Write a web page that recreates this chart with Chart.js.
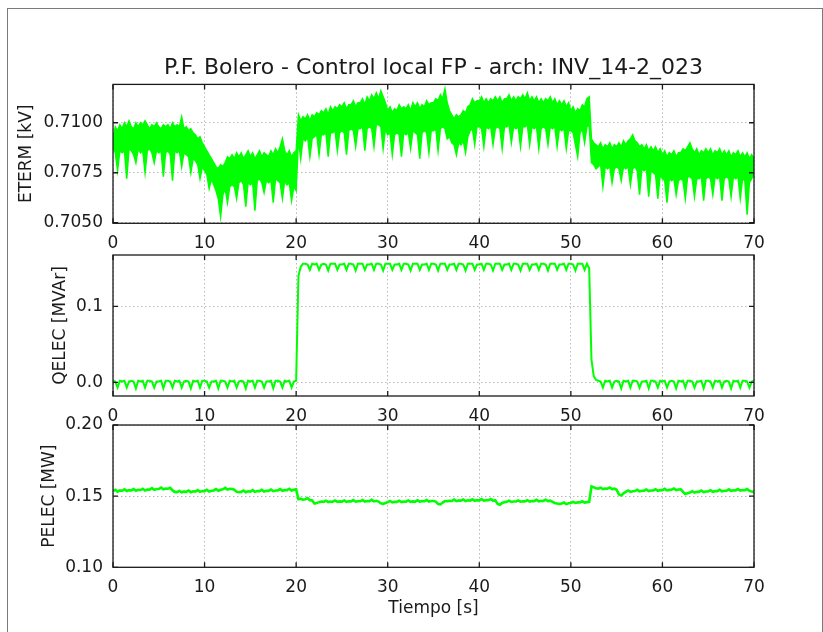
<!DOCTYPE html>
<html>
<head>
<meta charset="utf-8">
<script src="https://cdn.jsdelivr.net/npm/chart.js@4/dist/chart.umd.min.js"></script>
<style>
  html, body { margin: 0; padding: 0; background: #fff; }
  body { width: 823px; height: 632px; position: relative; overflow: hidden; }
  canvas { position: absolute; left: 0; }
  #marco { position: absolute; left: 7px; top: 8px; width: 814px; height: 640px; border: 1px solid #7a7a7a; }
</style>
</head>
<body>
<div id="marco"></div>
<canvas id="cE" width="823" height="255" style="top:0px"></canvas>
<canvas id="cQ" width="823" height="188" style="top:240px"></canvas>
<canvas id="cP" width="823" height="222" style="top:410px"></canvas>
<script>
// Muestreo cada 0.25 s, de 0 a 70 s
const paso = 0.25;

// ETERM [kV]: borde superior de la banda de ruido
const etermSup = [
  0.7092, 0.7098, 0.7096, 0.7099,
  0.7097, 0.7100, 0.7098, 0.7101,
  0.7098, 0.7097, 0.7100, 0.7098,
  0.7100, 0.7099, 0.7101, 0.7099,
  0.7097, 0.7099, 0.7098, 0.7100,
  0.7098, 0.7097, 0.7099, 0.7098,
  0.7099, 0.7097, 0.7100, 0.7098,
  0.7099, 0.7098, 0.7103, 0.7097,
  0.7098, 0.7096, 0.7097, 0.7095,
  0.7094, 0.7092, 0.7093, 0.7090,
  0.7088, 0.7086, 0.7084, 0.7082,
  0.7080, 0.7078, 0.7077, 0.7079,
  0.7078, 0.7080, 0.7083, 0.7082,
  0.7084, 0.7082, 0.7085, 0.7083,
  0.7085, 0.7082, 0.7084, 0.7086,
  0.7083, 0.7085, 0.7082, 0.7084,
  0.7086, 0.7083, 0.7085, 0.7084,
  0.7083, 0.7086, 0.7084, 0.7087,
  0.7085, 0.7088, 0.7092, 0.7086,
  0.7084, 0.7086, 0.7083, 0.7085,
  0.7086, 0.7104, 0.7101, 0.7103,
  0.7102, 0.7104, 0.7101, 0.7104,
  0.7103, 0.7105, 0.7104, 0.7106,
  0.7105, 0.7107, 0.7104, 0.7108,
  0.7106, 0.7108, 0.7107, 0.7109,
  0.7108, 0.7110, 0.7107, 0.7109,
  0.7109, 0.7111, 0.7108, 0.7110,
  0.7110, 0.7112, 0.7109, 0.7113,
  0.7111, 0.7114, 0.7112, 0.7115,
  0.7112, 0.7116, 0.7113, 0.7110,
  0.7106, 0.7108, 0.7105, 0.7107,
  0.7106, 0.7109, 0.7107, 0.7108,
  0.7107, 0.7109, 0.7106, 0.7110,
  0.7108, 0.7110, 0.7107, 0.7109,
  0.7108, 0.7111, 0.7109, 0.7110,
  0.7110, 0.7112, 0.7111, 0.7114,
  0.7112, 0.7117, 0.7110, 0.7106,
  0.7104, 0.7102, 0.7104, 0.7103,
  0.7104, 0.7106, 0.7105, 0.7108,
  0.7109, 0.7112, 0.7110, 0.7111,
  0.7111, 0.7113, 0.7110, 0.7112,
  0.7110, 0.7112, 0.7111, 0.7113,
  0.7111, 0.7113, 0.7110, 0.7112,
  0.7112, 0.7114, 0.7111, 0.7113,
  0.7111, 0.7113, 0.7112, 0.7114,
  0.7112, 0.7115, 0.7111, 0.7113,
  0.7111, 0.7113, 0.7110, 0.7112,
  0.7110, 0.7112, 0.7111, 0.7113,
  0.7110, 0.7112, 0.7109, 0.7111,
  0.7109, 0.7111, 0.7108, 0.7110,
  0.7106, 0.7108, 0.7105, 0.7107,
  0.7106, 0.7109, 0.7108, 0.7112,
  0.7113, 0.7092, 0.7090, 0.7089,
  0.7088, 0.7090, 0.7087, 0.7089,
  0.7088, 0.7090, 0.7087, 0.7089,
  0.7088, 0.7090, 0.7088, 0.7091,
  0.7089, 0.7091, 0.7092, 0.7094,
  0.7091, 0.7090, 0.7088, 0.7089,
  0.7087, 0.7089, 0.7086, 0.7088,
  0.7086, 0.7088, 0.7085, 0.7087,
  0.7084, 0.7086, 0.7083, 0.7085,
  0.7084, 0.7086, 0.7083, 0.7085,
  0.7085, 0.7087, 0.7086, 0.7088,
  0.7090, 0.7087, 0.7085, 0.7087,
  0.7084, 0.7086, 0.7085, 0.7087,
  0.7085, 0.7087, 0.7084, 0.7086,
  0.7085, 0.7087, 0.7084, 0.7086,
  0.7084, 0.7086, 0.7083, 0.7085,
  0.7084, 0.7086, 0.7083, 0.7085,
  0.7083, 0.7085, 0.7082, 0.7084,
  0.7082
];

// ETERM [kV]: borde inferior de la banda, con los picos hacia abajo
const etermInf = [
  0.7087, 0.7085, 0.7076, 0.7086,
  0.7085, 0.7086, 0.7072, 0.7087,
  0.7086, 0.7084, 0.7080, 0.7087,
  0.7085, 0.7086, 0.7075, 0.7086,
  0.7087, 0.7085, 0.7080, 0.7086,
  0.7085, 0.7086, 0.7073, 0.7085,
  0.7086, 0.7084, 0.7071, 0.7086,
  0.7085, 0.7086, 0.7078, 0.7085,
  0.7084, 0.7083, 0.7075, 0.7082,
  0.7081, 0.7079, 0.7072, 0.7078,
  0.7076, 0.7074, 0.7067, 0.7072,
  0.7069, 0.7066, 0.7062, 0.7053,
  0.7064, 0.7067, 0.7060, 0.7068,
  0.7069, 0.7068, 0.7062, 0.7070,
  0.7071, 0.7069, 0.7058, 0.7070,
  0.7069, 0.7070, 0.7056, 0.7071,
  0.7072, 0.7070, 0.7065, 0.7071,
  0.7070, 0.7071, 0.7060, 0.7072,
  0.7071, 0.7070, 0.7062, 0.7071,
  0.7069, 0.7070, 0.7061, 0.7068,
  0.7066, 0.7092, 0.7082, 0.7092,
  0.7091, 0.7093, 0.7083, 0.7092,
  0.7093, 0.7094, 0.7084, 0.7094,
  0.7094, 0.7095, 0.7083, 0.7095,
  0.7095, 0.7096, 0.7086, 0.7095,
  0.7096, 0.7095, 0.7084, 0.7096,
  0.7097, 0.7096, 0.7088, 0.7097,
  0.7097, 0.7098, 0.7086, 0.7097,
  0.7098, 0.7097, 0.7088, 0.7099,
  0.7099, 0.7098, 0.7087, 0.7097,
  0.7094, 0.7095, 0.7084, 0.7094,
  0.7095, 0.7094, 0.7083, 0.7095,
  0.7094, 0.7095, 0.7087, 0.7096,
  0.7095, 0.7094, 0.7082, 0.7095,
  0.7096, 0.7095, 0.7085, 0.7096,
  0.7096, 0.7097, 0.7086, 0.7097,
  0.7098, 0.7097, 0.7092, 0.7093,
  0.7090, 0.7089, 0.7084, 0.7090,
  0.7089, 0.7091, 0.7085, 0.7093,
  0.7096, 0.7097, 0.7089, 0.7098,
  0.7098, 0.7097, 0.7088, 0.7098,
  0.7097, 0.7098, 0.7089, 0.7097,
  0.7098, 0.7097, 0.7087, 0.7098,
  0.7098, 0.7099, 0.7090, 0.7098,
  0.7097, 0.7098, 0.7088, 0.7098,
  0.7098, 0.7099, 0.7089, 0.7098,
  0.7097, 0.7098, 0.7087, 0.7097,
  0.7098, 0.7097, 0.7089, 0.7098,
  0.7097, 0.7098, 0.7088, 0.7097,
  0.7096, 0.7097, 0.7087, 0.7096,
  0.7096, 0.7095, 0.7089, 0.7083,
  0.7095, 0.7097, 0.7090, 0.7098,
  0.7099, 0.7080, 0.7079, 0.7077,
  0.7078, 0.7079, 0.7068, 0.7078,
  0.7077, 0.7078, 0.7070, 0.7077,
  0.7078, 0.7077, 0.7071, 0.7078,
  0.7077, 0.7078, 0.7069, 0.7077,
  0.7078, 0.7076, 0.7064, 0.7077,
  0.7076, 0.7077, 0.7063, 0.7076,
  0.7075, 0.7074, 0.7062, 0.7074,
  0.7072, 0.7071, 0.7060, 0.7072,
  0.7071, 0.7072, 0.7064, 0.7071,
  0.7072, 0.7071, 0.7062, 0.7073,
  0.7073, 0.7072, 0.7063, 0.7072,
  0.7072, 0.7073, 0.7061, 0.7072,
  0.7073, 0.7072, 0.7064, 0.7073,
  0.7072, 0.7073, 0.7061, 0.7072,
  0.7073, 0.7072, 0.7063, 0.7073,
  0.7072, 0.7073, 0.7062, 0.7072,
  0.7071, 0.7054, 0.7070, 0.7072,
  0.7074
];

// QELEC [MVAr]
const qelec = [
  0.002, 0.001, -0.007, 0.002,
  0.001, 0.002, -0.007, 0.001,
  0.002, 0.001, -0.008, 0.002,
  0.001, 0.002, -0.007, 0.002,
  0.002, 0.001, -0.007, 0.001,
  0.001, 0.002, -0.008, 0.002,
  0.002, 0.001, -0.007, 0.002,
  0.001, 0.002, -0.007, 0.001,
  0.002, 0.001, -0.008, 0.002,
  0.001, 0.002, -0.007, 0.002,
  0.002, 0.001, -0.007, 0.001,
  0.001, 0.002, -0.008, 0.002,
  0.002, 0.001, -0.007, 0.002,
  0.001, 0.002, -0.007, 0.001,
  0.002, 0.001, -0.008, 0.002,
  0.001, 0.002, -0.007, 0.002,
  0.002, 0.001, -0.007, 0.001,
  0.001, 0.002, -0.008, 0.002,
  0.002, 0.001, -0.007, 0.002,
  0.001, 0.002, -0.007, 0.001,
  0.002, 0.140, 0.152, 0.156,
  0.156, 0.155, 0.148, 0.156,
  0.155, 0.156, 0.148, 0.155,
  0.156, 0.155, 0.147, 0.156,
  0.156, 0.156, 0.148, 0.155,
  0.155, 0.156, 0.148, 0.156,
  0.156, 0.155, 0.147, 0.156,
  0.156, 0.156, 0.148, 0.155,
  0.155, 0.156, 0.148, 0.156,
  0.156, 0.155, 0.147, 0.156,
  0.156, 0.156, 0.148, 0.155,
  0.155, 0.156, 0.148, 0.156,
  0.156, 0.155, 0.147, 0.156,
  0.156, 0.156, 0.148, 0.155,
  0.155, 0.156, 0.148, 0.156,
  0.156, 0.155, 0.147, 0.156,
  0.156, 0.156, 0.148, 0.155,
  0.155, 0.156, 0.148, 0.156,
  0.156, 0.155, 0.147, 0.156,
  0.156, 0.156, 0.148, 0.155,
  0.155, 0.156, 0.148, 0.156,
  0.156, 0.155, 0.147, 0.156,
  0.156, 0.156, 0.148, 0.155,
  0.155, 0.156, 0.148, 0.156,
  0.156, 0.155, 0.147, 0.156,
  0.156, 0.156, 0.148, 0.155,
  0.155, 0.156, 0.148, 0.156,
  0.156, 0.155, 0.147, 0.156,
  0.156, 0.156, 0.148, 0.155,
  0.155, 0.156, 0.148, 0.156,
  0.156, 0.155, 0.147, 0.156,
  0.156, 0.156, 0.148, 0.156,
  0.150, 0.030, 0.008, 0.003,
  0.002, 0.001, -0.007, 0.002,
  0.001, 0.002, -0.007, 0.001,
  0.002, 0.001, -0.008, 0.002,
  0.001, 0.002, -0.007, 0.002,
  0.002, 0.001, -0.007, 0.001,
  0.001, 0.002, -0.008, 0.002,
  0.002, 0.001, -0.007, 0.002,
  0.001, 0.002, -0.007, 0.001,
  0.002, 0.001, -0.008, 0.002,
  0.001, 0.002, -0.007, 0.002,
  0.002, 0.001, -0.007, 0.001,
  0.001, 0.002, -0.008, 0.002,
  0.002, 0.001, -0.007, 0.002,
  0.001, 0.002, -0.007, 0.001,
  0.002, 0.001, -0.008, 0.002,
  0.001, 0.002, -0.007, 0.002,
  0.002, 0.001, -0.007, 0.001,
  0.002
];

// PELEC [MW]
const pelec = [
  0.1535, 0.1545, 0.1532, 0.1540,
  0.1538, 0.1548, 0.1536, 0.1542,
  0.1540, 0.1550, 0.1538, 0.1545,
  0.1543, 0.1552, 0.1540, 0.1547,
  0.1546, 0.1556, 0.1544, 0.1550,
  0.1550, 0.1560, 0.1548, 0.1554,
  0.1552, 0.1558, 0.1540, 0.1530,
  0.1528, 0.1537, 0.1527, 0.1532,
  0.1530, 0.1540, 0.1528, 0.1534,
  0.1532, 0.1542, 0.1530, 0.1536,
  0.1535, 0.1545, 0.1533, 0.1538,
  0.1540, 0.1550, 0.1538, 0.1545,
  0.1548, 0.1558, 0.1546, 0.1552,
  0.1550, 0.1545, 0.1530, 0.1528,
  0.1530, 0.1540, 0.1528, 0.1534,
  0.1532, 0.1542, 0.1530, 0.1536,
  0.1535, 0.1545, 0.1533, 0.1538,
  0.1537, 0.1547, 0.1535, 0.1540,
  0.1540, 0.1550, 0.1538, 0.1542,
  0.1542, 0.1552, 0.1540, 0.1545,
  0.1548, 0.1478, 0.1482, 0.1475,
  0.1478, 0.1486, 0.1472, 0.1470,
  0.1448, 0.1452, 0.1458, 0.1462,
  0.1460, 0.1468, 0.1458, 0.1462,
  0.1461, 0.1470, 0.1460, 0.1463,
  0.1462, 0.1470, 0.1460, 0.1464,
  0.1463, 0.1472, 0.1461, 0.1465,
  0.1464, 0.1473, 0.1462, 0.1466,
  0.1465, 0.1474, 0.1463, 0.1467,
  0.1462, 0.1450, 0.1446, 0.1452,
  0.1458, 0.1466, 0.1456, 0.1460,
  0.1460, 0.1468, 0.1458, 0.1462,
  0.1461, 0.1470, 0.1460, 0.1463,
  0.1462, 0.1471, 0.1461, 0.1465,
  0.1464, 0.1473, 0.1462, 0.1466,
  0.1466, 0.1462, 0.1445, 0.1442,
  0.1455, 0.1465, 0.1464, 0.1468,
  0.1466, 0.1476, 0.1465, 0.1470,
  0.1468, 0.1477, 0.1466, 0.1471,
  0.1469, 0.1478, 0.1467, 0.1472,
  0.1470, 0.1479, 0.1468, 0.1472,
  0.1471, 0.1480, 0.1469, 0.1470,
  0.1445, 0.1440, 0.1452, 0.1458,
  0.1460, 0.1468, 0.1459, 0.1462,
  0.1462, 0.1470, 0.1461, 0.1464,
  0.1463, 0.1472, 0.1462, 0.1466,
  0.1465, 0.1474, 0.1464, 0.1467,
  0.1466, 0.1475, 0.1465, 0.1468,
  0.1460, 0.1452, 0.1448, 0.1445,
  0.1448, 0.1455, 0.1444, 0.1450,
  0.1452, 0.1460, 0.1452, 0.1456,
  0.1456, 0.1464, 0.1455, 0.1458,
  0.1460, 0.1568, 0.1562, 0.1555,
  0.1552, 0.1560, 0.1550, 0.1554,
  0.1552, 0.1561, 0.1550, 0.1553,
  0.1545, 0.1512, 0.1505, 0.1520,
  0.1530, 0.1540, 0.1530, 0.1535,
  0.1536, 0.1545, 0.1534, 0.1538,
  0.1538, 0.1547, 0.1536, 0.1540,
  0.1540, 0.1549, 0.1538, 0.1542,
  0.1542, 0.1551, 0.1540, 0.1544,
  0.1545, 0.1554, 0.1543, 0.1547,
  0.1548, 0.1530, 0.1515, 0.1520,
  0.1525, 0.1535, 0.1525, 0.1530,
  0.1530, 0.1540, 0.1529, 0.1533,
  0.1533, 0.1542, 0.1531, 0.1535,
  0.1535, 0.1545, 0.1534, 0.1538,
  0.1538, 0.1548, 0.1537, 0.1541,
  0.1540, 0.1550, 0.1539, 0.1543,
  0.1542, 0.1550, 0.1538, 0.1532,
  0.1528
];

// Marcas de los ejes
const xTicks = [0, 10, 20, 30, 40, 50, 60, 70];
const xTickLabels = ['0', '10', '20', '30', '40', '50', '60', '70'];
const eTicks = [0.7050, 0.7075, 0.7100];
const eTickLabels = ['0.7050', '0.7075', '0.7100'];
const qTicks = [0.0, 0.1];
const qTickLabels = ['0.0', '0.1'];
const pTicks = [0.10, 0.15, 0.20];
const pTickLabels = ['0.10', '0.15', '0.20'];

const tiempo = etermSup.map((_, i) => i * paso);

const FAMILIA = 'DejaVu Sans';
const TINTA = '#1a1a1a';
const VERDE = '#00ff00';
const fuenteTicks = { family: FAMILIA, size: 17 };

const puntos = vals => vals.map((v, i) => ({ x: tiempo[i], y: v }));

// Recuadro del eje y marcas hacia adentro en los cuatro lados
const recuadro = {
  id: 'recuadro',
  afterDraw(chart) {
    const { ctx, chartArea: a, scales: { x, y } } = chart;
    const L = 5;
    ctx.save();
    ctx.strokeStyle = TINTA;
    ctx.lineWidth = 1.3;
    ctx.strokeRect(a.left, a.top, a.right - a.left, a.bottom - a.top);
    ctx.beginPath();
    x.ticks.forEach(t => {
      const px = x.getPixelForValue(t.value);
      ctx.moveTo(px, a.bottom); ctx.lineTo(px, a.bottom - L);
      ctx.moveTo(px, a.top); ctx.lineTo(px, a.top + L);
    });
    y.ticks.forEach(t => {
      const py = y.getPixelForValue(t.value);
      ctx.moveTo(a.left, py); ctx.lineTo(a.left + L, py);
      ctx.moveTo(a.right, py); ctx.lineTo(a.right - L, py);
    });
    ctx.stroke();
    ctx.restore();
  }
};

function grafico(id, cfg) {
  return new Chart(document.getElementById(id), {
    type: 'line',
    data: { datasets: cfg.series },
    options: {
      responsive: false,
      animation: false,
      devicePixelRatio: 1,
      layout: { padding: { top: cfg.padTop, right: 69, left: 0, bottom: 0 } },
      elements: { point: { radius: 0 }, line: { tension: 0 } },
      plugins: {
        legend: { display: false },
        tooltip: { enabled: false },
        title: cfg.titulo ? {
          display: true,
          fullSize: false,
          text: cfg.titulo,
          color: TINTA,
          font: { family: FAMILIA, size: 22, weight: 'normal' },
          padding: { top: 55, bottom: 3 }
        } : { display: false }
      },
      scales: {
        x: {
          type: 'linear',
          min: 0, max: 70,
          afterBuildTicks: s => { s.ticks = xTicks.map(v => ({ value: v })); },
          afterFit: s => { s.height = cfg.altoX; s.paddingLeft = 0; s.paddingRight = 0; },
          grid: { color: '#b8b8b8', lineWidth: 1, drawTicks: false },
          border: { display: false, dash: [1.5, 2.5] },
          ticks: {
            color: TINTA, font: fuenteTicks, padding: 10, maxRotation: 0, autoSkip: false,
            callback: (v, i) => xTickLabels[i]
          },
          title: cfg.tituloX ? {
            display: true, text: cfg.tituloX, color: TINTA,
            font: { family: FAMILIA, size: 17 },
            padding: { top: 0, bottom: 12.8 }
          } : { display: false }
        },
        y: {
          min: cfg.yMin, max: cfg.yMax,
          afterBuildTicks: s => { s.ticks = cfg.yTicks.map(v => ({ value: v })); },
          afterFit: s => { s.width = 113; s.paddingTop = 0; s.paddingBottom = 0; },
          grid: { color: '#b8b8b8', lineWidth: 1, drawTicks: false },
          border: { display: false, dash: [1.5, 2.5] },
          ticks: {
            color: TINTA, font: fuenteTicks, padding: 10,
            callback: (v, i) => cfg.yTickLabels[i]
          },
          title: {
            display: true, text: cfg.tituloY, color: TINTA,
            font: { family: FAMILIA, size: 17 },
            padding: { top: cfg.padTituloY, bottom: 0 }
          }
        }
      }
    },
    plugins: [recuadro]
  });
}

grafico('cE', {
  series: [
    { data: puntos(etermSup), borderColor: VERDE, backgroundColor: VERDE, borderWidth: 1.5, fill: '+1' },
    { data: puntos(etermInf), borderColor: VERDE, backgroundColor: VERDE, borderWidth: 1.5, fill: false }
  ],
  titulo: 'P.F. Bolero - Control local FP - arch: INV_14-2_023',
  padTop: 0, altoX: 31.7,
  yMin: 0.70497, yMax: 0.71192, yTicks: eTicks, yTickLabels: eTickLabels,
  tituloY: 'ETERM [kV]', padTituloY: 16
});
grafico('cQ', {
  series: [{ data: puntos(qelec), borderColor: VERDE, borderWidth: 2, fill: false }],
  padTop: 15, altoX: 32,
  yMin: -0.018, yMax: 0.1675, yTicks: qTicks, yTickLabels: qTickLabels,
  tituloY: 'QELEC [MVAr]', padTituloY: 50
});
grafico('cP', {
  series: [{ data: puntos(pelec), borderColor: VERDE, borderWidth: 2.6, fill: false }],
  padTop: 15, altoX: 64.7, tituloX: 'Tiempo [s]',
  yMin: 0.10, yMax: 0.20, yTicks: pTicks, yTickLabels: pTickLabels,
  tituloY: 'PELEC [MW]', padTituloY: 39
});
</script>
</body>
</html>
